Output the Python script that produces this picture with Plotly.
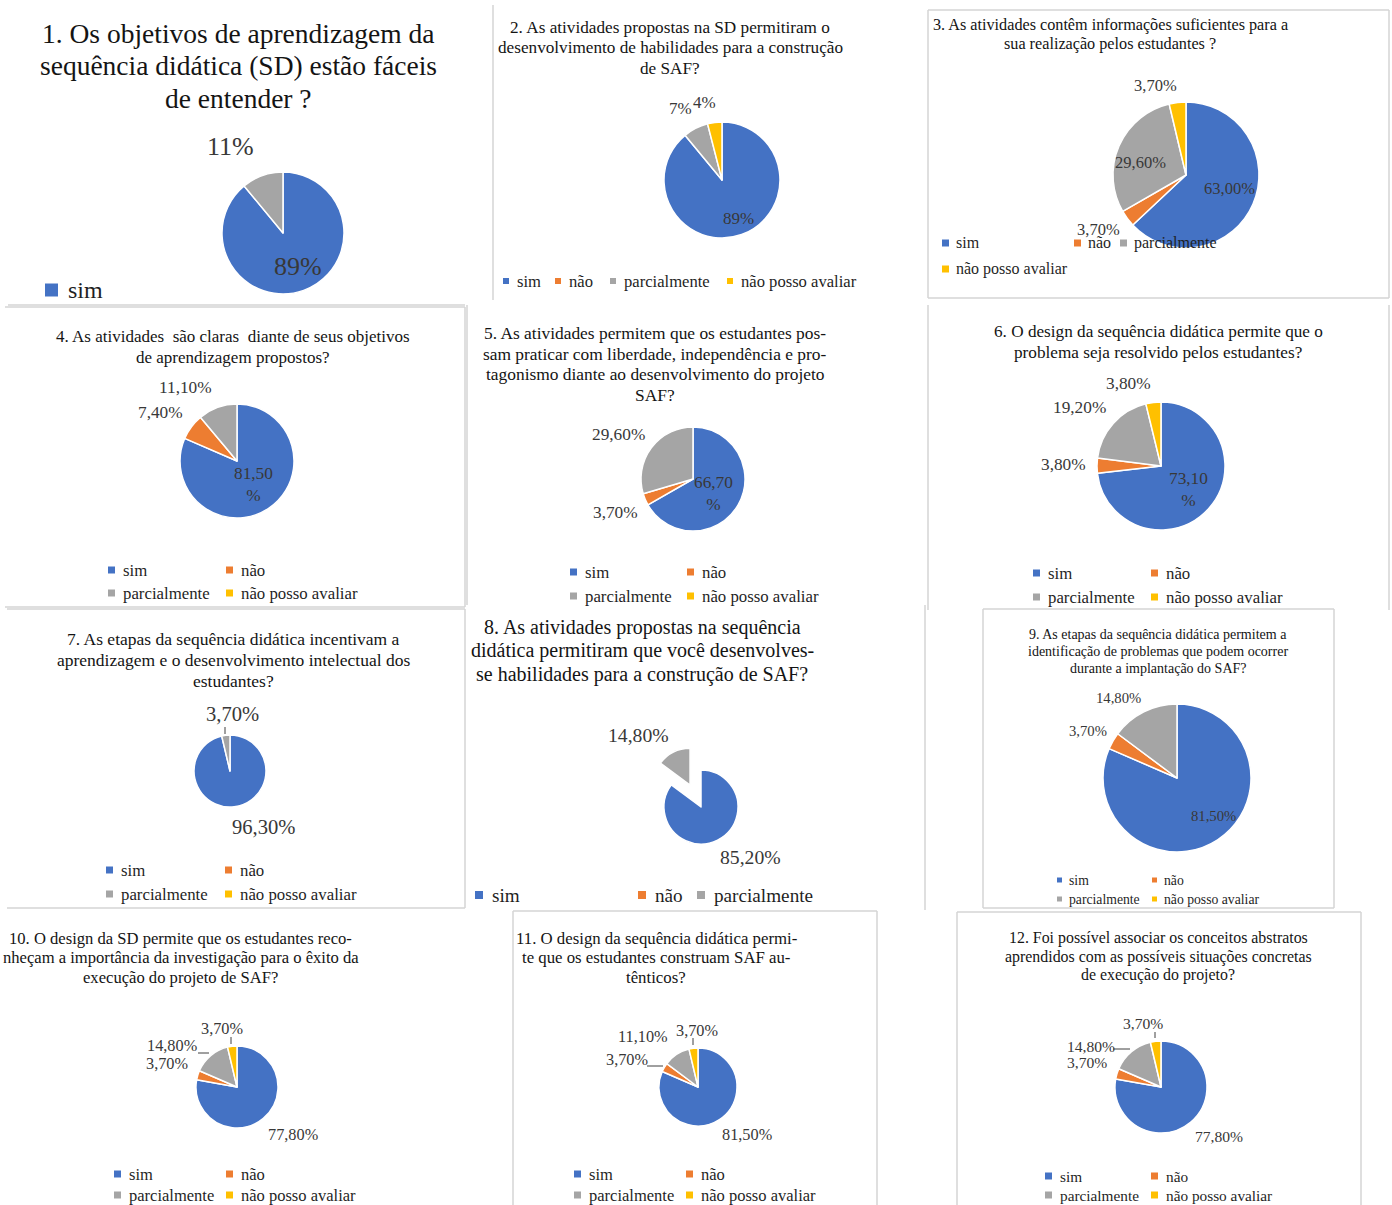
import plotly.graph_objects as go

W, H = 1392, 1205

# ---------------- data ----------------
categories = ["sim", "não", "parcialmente", "não posso avaliar"]
colors = ["#4472C4", "#ED7D31", "#A5A5A5", "#FFC000"]

q1 = [89, 0, 11, 0]
q2 = [89, 0, 7, 4]
q3 = [63.0, 3.7, 29.6, 3.7]
q4 = [81.5, 7.4, 11.1, 0]
q5 = [66.7, 3.7, 29.6, 0]
q6 = [73.1, 3.8, 19.2, 3.8]
q7 = [96.3, 0, 3.7, 0]
q8 = [85.2, 0, 14.8, 0]
q9 = [81.5, 3.7, 14.8, 0]
q10 = [77.8, 3.7, 14.8, 3.7]
q11 = [81.5, 3.7, 11.1, 3.7]
q12 = [77.8, 3.7, 14.8, 3.7]

t1 = ["1. Os objetivos de aprendizagem da", "sequência didática (SD) estão fáceis", "de entender ?"]
t2 = ["2. As atividades propostas na SD permitiram o", "desenvolvimento de habilidades para a construção", "de SAF?"]
t3 = ["3. As atividades contêm informações suficientes para a", "sua realização pelos estudantes ?"]
t4 = ["4. As atividades\u00a0 são claras\u00a0 diante de seus objetivos", "de aprendizagem propostos?"]
t5 = ["5. As atividades permitem que os estudantes pos-", "sam praticar com liberdade, independência e pro-",
      "tagonismo diante ao desenvolvimento do projeto", "SAF?"]
t6 = ["6. O design da sequência didática permite que o", "problema seja resolvido pelos estudantes?"]
t7 = ["7. As etapas da sequência didática incentivam a", "aprendizagem e o desenvolvimento intelectual dos", "estudantes?"]
t8 = ["8. As atividades propostas na sequência", "didática permitiram que você desenvolves-", "se habilidades para a construção de SAF?"]
t9 = ["9. As etapas da sequência didática permitem a", "identificação de problemas que podem ocorrer", "durante a implantação do SAF?"]
t10 = ["10. O design da SD permite que os estudantes reco-", "nheçam a importância da investigação para o êxito da",
       "execução do projeto de SAF?"]
t11 = ["11. O design da sequência didática permi-", "te que os estudantes construam SAF au-", "tênticos?"]
t12 = ["12. Foi possível associar os conceitos abstratos", "aprendidos com as possíveis situações concretas", "de execução do projeto?"]

# ---------------- layout specs (pixels) ----------------
FONT = "Liberation Serif"
TITLE_C = "#141414"
LABEL_C = "#383838"
LEG_C = "#1f1f1f"

charts = [
    dict(v=q1, t=t1, title=(238, 33, 32.5, 27.5), pie=(283, 233, 61), fmt="int", lsize=26,
         labels=[(2, 230, 146), (0, 298, 266)],
         leg=dict(size=24, sq=13, off=21, items=[(0, 45, 290)])),
    dict(v=q2, t=t2, title=(670, 27.5, 20.5, 17.2), pie=(722, 180, 58), fmt="int", lsize=17,
         labels=[(2, 680, 108), (3, 704, 102), (0, 739, 218)],
         leg=dict(size=16.6, sq=6, off=12, items=[(0, 503, 281), (1, 555, 281), (2, 610, 281), (3, 727, 281)])),
    dict(v=q3, t=t3, title=(1110, 25, 19, 16.2), pie=(1186, 175, 73), fmt="dec", lsize=16.5,
         labels=[(3, 1155, 86), (2, 1140, 163), (0, 1229, 188), (1, 1098, 230)],
         leg=dict(size=16, sq=7, off=12, items=[(0, 942, 243), (1, 1074, 243), (2, 1120, 243), (3, 942, 269)])),
    dict(v=q4, t=t4, title=(233, 336, 21, 17), pie=(237, 461, 57), fmt="dec", lsize=17.3, wrap0=True,
         labels=[(2, 186, 388), (1, 160, 412), (0, 253, 484)],
         leg=dict(size=16.8, sq=7, off=13, items=[(0, 108, 570), (1, 226, 570), (2, 108, 593), (3, 226, 593)])),
    dict(v=q5, t=t5, title=(655, 333, 20.7, 17.4), pie=(693, 479, 52), fmt="dec", lsize=17.3, wrap0=True,
         labels=[(2, 618, 434), (1, 615, 512), (0, 713, 493)],
         leg=dict(size=16.8, sq=7, off=13, items=[(0, 570, 572), (1, 687, 572), (2, 570, 596), (3, 687, 596)])),
    dict(v=q6, t=t6, title=(1158, 331, 21, 17.2), pie=(1161, 466, 64), fmt="dec", lsize=17.3, wrap0=True,
         labels=[(3, 1128, 383), (2, 1079, 407), (1, 1063, 465), (0, 1188, 489)],
         leg=dict(size=16.8, sq=7, off=13, items=[(0, 1033, 573), (1, 1151, 573), (2, 1033, 597), (3, 1151, 597)])),
    dict(v=q7, t=t7, title=(233, 639, 21, 17.5), pie=(230, 771, 36), fmt="dec", lsize=20.6,
         labels=[(2, 232, 714), (0, 264, 827)],
         lines=[(225, 727, 225, 734)],
         leg=dict(size=16.8, sq=7, off=13, items=[(0, 106, 870), (1, 225, 870), (2, 106, 894), (3, 225, 894)])),
    dict(v=q8, t=t8, title=(642, 627, 23.5, 20), pie=(701, 807, 37), fmt="dec", lsize=19.7, pull=(2, 0.66),
         labels=[(2, 638, 735), (0, 750, 857)],
         leg=dict(size=19.2, sq=8, off=15, items=[(0, 475, 895), (1, 638, 895), (2, 697, 895)])),
    dict(v=q9, t=t9, title=(1158, 634, 17, 14), pie=(1177, 778, 74), fmt="dec", lsize=14.7,
         labels=[(2, 1118, 698), (1, 1088, 731), (0, 1213, 816)],
         leg=dict(size=13.7, sq=5, off=10, items=[(0, 1057, 880), (1, 1152, 880), (2, 1057, 899), (3, 1152, 899)])),
    dict(v=q10, t=t10, title=(181, 938, 19.5, 16.6), pie=(237, 1087, 41), fmt="dec", lsize=16.3,
         labels=[(3, 222, 1028), (2, 172, 1045), (1, 167, 1063), (0, 293, 1134)],
         lines=[(231, 1037, 231, 1044), (198, 1053, 209, 1053)],
         leg=dict(size=16.5, sq=7, off=13, items=[(0, 114, 1174), (1, 226, 1174), (2, 114, 1195), (3, 226, 1195)])),
    dict(v=q11, t=t11, title=(656, 938, 19.5, 16.8), pie=(698, 1087, 39), fmt="dec", lsize=16.3,
         labels=[(2, 643, 1036), (3, 697, 1030), (1, 627, 1059), (0, 747, 1134)],
         lines=[(693, 1038, 693, 1045), (647, 1066, 663, 1066)],
         leg=dict(size=16.5, sq=7, off=13, items=[(0, 574, 1174), (1, 686, 1174), (2, 574, 1195), (3, 686, 1195)])),
    dict(v=q12, t=t12, title=(1158, 938, 18.7, 15.9), pie=(1161, 1087, 46), fmt="dec", lsize=15.6,
         labels=[(3, 1143, 1023), (2, 1091, 1046), (1, 1087, 1062), (0, 1219, 1136)],
         lines=[(1155, 1032, 1155, 1038), (1113, 1049, 1130, 1049)],
         leg=dict(size=15.3, sq=7, off=13, items=[(0, 1045, 1176), (1, 1151, 1176), (2, 1045, 1195), (3, 1151, 1195)])),
]

# border lines of the collage (pixels)
borders = [
    (8, 305, 465, 305),
    (493, 5, 493, 300),
    (928, 10, 1389, 10), (928, 10, 928, 298), (1389, 10, 1389, 298), (928, 298, 1389, 298),
    (5, 307, 465, 307), (465, 307, 465, 607), (5, 607, 465, 607),
    (467, 305, 467, 605),
    (928, 305, 928, 610), (1389, 305, 1389, 610),
    (7, 609, 465, 609), (465, 609, 465, 908), (7, 908, 465, 908),
    (925, 605, 925, 910),
    (983, 609, 1334, 609), (983, 609, 983, 908), (1334, 609, 1334, 908), (983, 908, 1334, 908),
    (513, 911, 877, 911), (513, 911, 513, 1205), (877, 911, 877, 1205),
    (957, 912, 1361, 912), (957, 912, 957, 1205), (1361, 912, 1361, 1205),
]


def X(x):
    return x / W


def Y(y):
    return 1 - y / H


def fmt_val(v, kind, wrap=False):
    if kind == "int":
        return f"{v:.0f}%"
    s = f"{v:.2f}".replace(".", ",")
    return s + ("<br>%" if wrap else "%")


fig = go.Figure()
annotations = []
shapes = []

for c in charts:
    vals = c["v"]
    idx = [i for i, v in enumerate(vals) if v > 0]
    cx, cy, r = c["pie"]
    pull_cat, pull_amt = c.get("pull", (None, 0))
    R = r * (1 + pull_amt)
    fig.add_trace(go.Pie(
        values=[vals[i] for i in idx],
        labels=[categories[i] for i in idx],
        marker=dict(colors=[colors[i] for i in idx], line=dict(color="white", width=1.5)),
        pull=[pull_amt if i == pull_cat else 0 for i in idx],
        sort=False, direction="clockwise", rotation=0,
        textinfo="none", hoverinfo="label+percent", showlegend=False,
        domain=dict(x=[X(cx - R), X(cx + R)], y=[Y(cy + R), Y(cy - R)]),
    ))

    # title lines
    tx, ty0, dy, ts = c["title"]
    for k, line in enumerate(c["t"]):
        annotations.append(dict(x=X(tx), y=Y(ty0 + k * dy), xref="paper", yref="paper",
                                text=line, showarrow=False, xanchor="center", yanchor="middle",
                                font=dict(family=FONT, size=ts, color=TITLE_C)))

    # data labels
    for (ci, lx, ly) in c["labels"]:
        wrap = c.get("wrap0", False) and ci == 0
        annotations.append(dict(x=X(lx), y=Y(ly), xref="paper", yref="paper",
                                text=fmt_val(vals[ci], c["fmt"], wrap), showarrow=False,
                                xanchor="center", yanchor="middle",
                                font=dict(family=FONT, size=c["lsize"], color=LABEL_C)))
    for (x0, y0, x1, y1) in c.get("lines", []):
        shapes.append(dict(type="line", xref="paper", yref="paper", x0=X(x0), y0=Y(y0), x1=X(x1), y1=Y(y1),
                           line=dict(color="#404040", width=1)))

    # legend
    lg = c["leg"]
    s = lg["sq"]
    for (ci, lx, ly) in lg["items"]:
        shapes.append(dict(type="rect", xref="paper", yref="paper",
                           x0=X(lx), x1=X(lx + s), y0=Y(ly + s / 2), y1=Y(ly - s / 2),
                           fillcolor=colors[ci], line=dict(width=0)))
        annotations.append(dict(x=X(lx + lg["off"]), y=Y(ly), xref="paper", yref="paper",
                                text=categories[ci], showarrow=False, xanchor="left", yanchor="middle",
                                font=dict(family=FONT, size=lg["size"], color=LEG_C)))

for (x0, y0, x1, y1) in borders:
    shapes.append(dict(type="line", xref="paper", yref="paper", x0=X(x0), y0=Y(y0), x1=X(x1), y1=Y(y1),
                       line=dict(color="#D4D4D4", width=1.5), layer="below"))

fig.update_layout(
    width=W, height=H, margin=dict(l=0, r=0, t=0, b=0),
    paper_bgcolor="white", plot_bgcolor="white",
    annotations=annotations, shapes=shapes, showlegend=False,
)

fig.write_html("out.html", config={"displayModeBar": False},
               post_script="document.body.style.margin='0';document.body.style.overflow='hidden';")
